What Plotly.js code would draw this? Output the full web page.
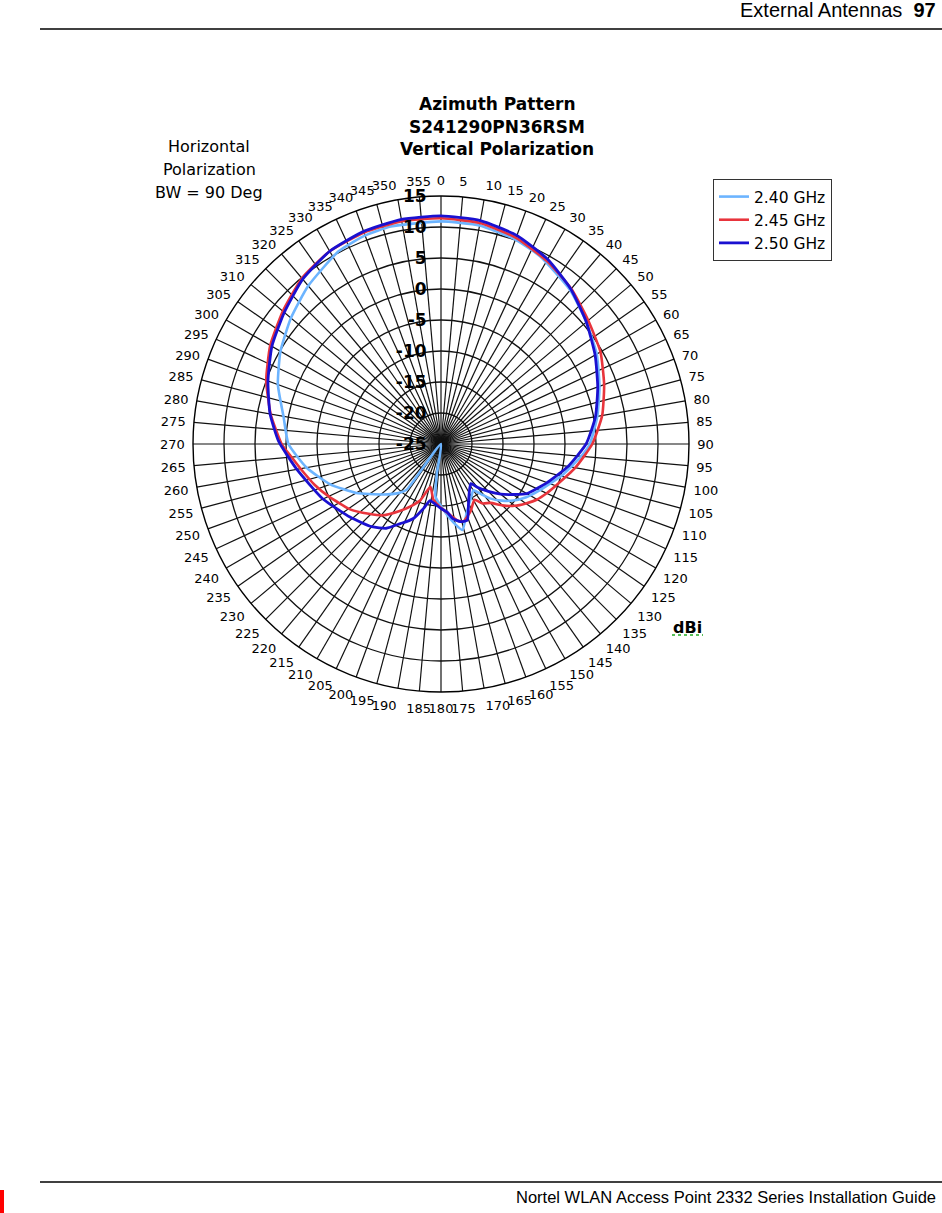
<!DOCTYPE html>
<html>
<head>
<meta charset="utf-8">
<script src="https://cdn.plot.ly/plotly-3.0.1.min.js"></script>
<style>html,body{margin:0;padding:0;background:#fff;}#chart{width:942px;height:1213px;}</style>
</head>
<body>
<div id="chart"></div>
<script>
// ---- Data ----
const seriesNames = ["2.40 GHz", "2.45 GHz", "2.50 GHz"];

const theta240 = [0, 10, 20, 28, 40, 50, 60, 70, 80, 90, 95, 104, 115, 122, 128, 133, 138, 141, 145, 150, 155, 160, 166, 171, 176, 180, 183, 186, 188, 205, 217, 221, 229, 240, 250, 260, 270, 280, 290, 300, 310, 320, 332, 340, 347, 360];
const r240 = [10.9, 10.8, 10.1, 9.2, 7.4, 5.6, 4.0, 2.2, 0.6, -1.0, -2.3, -4.7, -7.4, -8.8, -10.2, -11.6, -13.2, -14.5, -15.9, -15.2, -14.3, -13.0, -10.7, -12.2, -13.8, -15.0, -15.7, -16.5, -20.2, -25, -15.7, -14.5, -12.6, -9.2, -6.0, -3.0, -0.4, 0.8, 3.0, 4.9, 6.6, 8.3, 10.2, 10.8, 11.0, 10.9];

const theta245 = [0, 10, 20, 30, 40, 50, 60, 70, 80, 90, 100, 110, 115, 120, 125, 130, 135, 140, 145, 149, 156, 164, 168, 175, 182, 188, 194, 200, 206, 212, 219, 226, 234, 245, 252, 260, 265, 270, 280, 290, 300, 310, 320, 330, 340, 350, 360];
const r245 = [11.4, 11.2, 10.4, 9.1, 7.7, 6.0, 4.7, 3.0, 1.4, -0.6, -3.0, -5.3, -6.2, -7.1, -8.3, -9.5, -11.0, -12.6, -13.3, -14.5, -13.2, -12.0, -12.4, -13.9, -15.0, -16.0, -17.9, -15.4, -13.8, -12.2, -10.2, -8.8, -7.0, -5.0, -3.6, -2.0, -0.8, 0.7, 2.9, 5.0, 6.8, 8.3, 9.9, 10.9, 11.3, 11.5, 11.4];

const theta250 = [0, 10, 20, 30, 40, 50, 60, 70, 80, 90, 100, 110, 120, 125, 130, 135, 140, 143, 150, 155, 161, 166, 171, 175, 180, 185, 191, 195, 200, 204, 207, 213, 220, 231, 245, 260, 271, 280, 290, 300, 310, 320, 330, 340, 350, 360];
const r250 = [11.8, 11.6, 10.8, 9.4, 7.6, 5.6, 3.7, 1.9, 0.3, -1.6, -4.2, -6.8, -9.0, -10.8, -12.4, -14.2, -15.9, -17.0, -15.9, -14.5, -12.0, -12.1, -12.8, -14.0, -14.6, -15.2, -15.7, -14.3, -12.3, -11.3, -10.6, -8.8, -7.6, -6.2, -4.0, -1.4, 1.2, 3.0, 4.7, 6.5, 8.0, 9.7, 10.9, 11.5, 11.8, 11.8];

const radialTicks = [-25, -20, -15, -10, -5, 0, 5, 10, 15];
const angularTicks = [];
for (let a = 0; a < 360; a += 5) angularTicks.push(a);
const angularTickText = angularTicks.map(String);

const titleLines = ["Azimuth Pattern", "S241290PN36RSM", "Vertical Polarization"];
const noteLines = ["Horizontal", "Polarization", "BW = 90 Deg"];
const headerText = "External Antennas  <b>97</b>";
const footerText = "Nortel WLAN Access Point 2332 Series Installation Guide";
const unitText = "<b>dBi</b>";

// ---- Styling ----
const colors = ["#6cb4ff", "#e8343c", "#1a10d0"];
const widths = [2.6, 2.6, 2.8];
const thetas = [theta240, theta245, theta250];
const rs = [r240, r245, r250];

const W = 942, H = 1213;
const px = x => x / W;
const py = y => 1 - y / H;

const traces = seriesNames.map((name, i) => ({
  type: "scatterpolar",
  mode: "lines",
  name: name,
  theta: thetas[i],
  r: rs[i],
  line: {color: colors[i], width: widths[i], shape: "spline", smoothing: 0.5},
  hoverinfo: "skip"
}));

const cx = 441, cy = 444, R = 248;
const layout = {
  width: W, height: H,
  margin: {l: 0, r: 0, t: 0, b: 0},
  paper_bgcolor: "#ffffff",
  plot_bgcolor: "#ffffff",
  showlegend: true,
  legend: {
    x: px(713), y: py(179), xanchor: "left", yanchor: "top",
    bordercolor: "#333333", borderwidth: 1, bgcolor: "#ffffff",
    font: {family: "DejaVu Sans, sans-serif", size: 15.5, color: "#000"},
    itemwidth: 30, tracegroupgap: 0
  },
  polar: {
    domain: {x: [px(cx - R), px(cx + R)], y: [py(cy + R), py(cy - R)]},
    bgcolor: "#ffffff",
    angularaxis: {
      rotation: 90, direction: "clockwise",
      tickmode: "array", tickvals: angularTicks, ticktext: angularTickText,
      showgrid: true, gridcolor: "#111111", gridwidth: 1.2,
      showline: true, linecolor: "#000000", linewidth: 1.4,
      ticks: "outside", ticklen: 5, tickcolor: "rgba(0,0,0,0)",
      tickfont: {family: "DejaVu Sans, sans-serif", size: 13, color: "#000"}
    },
    radialaxis: {
      range: [-25, 15], tickmode: "array", tickvals: radialTicks,
      ticktext: radialTicks.map(String),
      angle: 90, side: "counterclockwise", tickangle: 90,
      showgrid: true, gridcolor: "#111111", gridwidth: 1.3,
      showline: false, ticks: "outside", ticklen: 8, tickcolor: "rgba(0,0,0,0)",
      tickfont: {family: "DejaVu Sans, sans-serif", size: 17, color: "#000", weight: "bold"}
    }
  },
  annotations: [
    ...titleLines.map((t, i) => ({
      text: "<b>" + t + "</b>", x: px(497), y: py([104, 127, 149][i]),
      xref: "paper", yref: "paper", xanchor: "center", yanchor: "middle", showarrow: false,
      font: {family: "DejaVu Sans, sans-serif", size: 17, color: "#000"}
    })),
    ...noteLines.map((t, i) => ({
      text: t, x: px(209), y: py([147, 169, 192][i]),
      xref: "paper", yref: "paper", xanchor: "center", yanchor: "middle", showarrow: false,
      font: {family: "DejaVu Sans, sans-serif", size: 16, color: "#000"}
    })),
    {text: unitText, x: px(687), y: py(627), xref: "paper", yref: "paper",
     xanchor: "center", yanchor: "middle", showarrow: false,
     font: {family: "DejaVu Sans, sans-serif", size: 16, color: "#000"}},
    {text: headerText, x: px(938), y: py(10), xref: "paper", yref: "paper",
     xanchor: "right", yanchor: "middle", showarrow: false,
     font: {family: "Liberation Sans Narrow, Liberation Sans, Arial, sans-serif", size: 20, color: "#000"}},
    {text: footerText, x: px(938), y: py(1197), xref: "paper", yref: "paper",
     xanchor: "right", yanchor: "middle", showarrow: false,
     font: {family: "Liberation Sans, Arial, sans-serif", size: 16.5, color: "#000"}}
  ],
  shapes: [
    {type: "line", xref: "paper", yref: "paper", x0: px(40), x1: 1, y0: py(29), y1: py(29), line: {color: "#000", width: 1.3}},
    {type: "line", xref: "paper", yref: "paper", x0: px(40), x1: 1, y0: py(1182), y1: py(1182), line: {color: "#000", width: 1.3}},
    {type: "rect", xref: "paper", yref: "paper", x0: 0, x1: px(4), y0: 0, y1: py(1190), fillcolor: "#ff0000", line: {width: 0}},
    {type: "line", xref: "paper", yref: "paper", x0: px(672), x1: px(703), y0: py(635), y1: py(635), line: {color: "#22aa22", width: 1.5, dash: "dot"}}
  ]
};

Plotly.newPlot("chart", traces, layout, {displayModeBar: false, staticPlot: true});
</script>
</body>
</html>
